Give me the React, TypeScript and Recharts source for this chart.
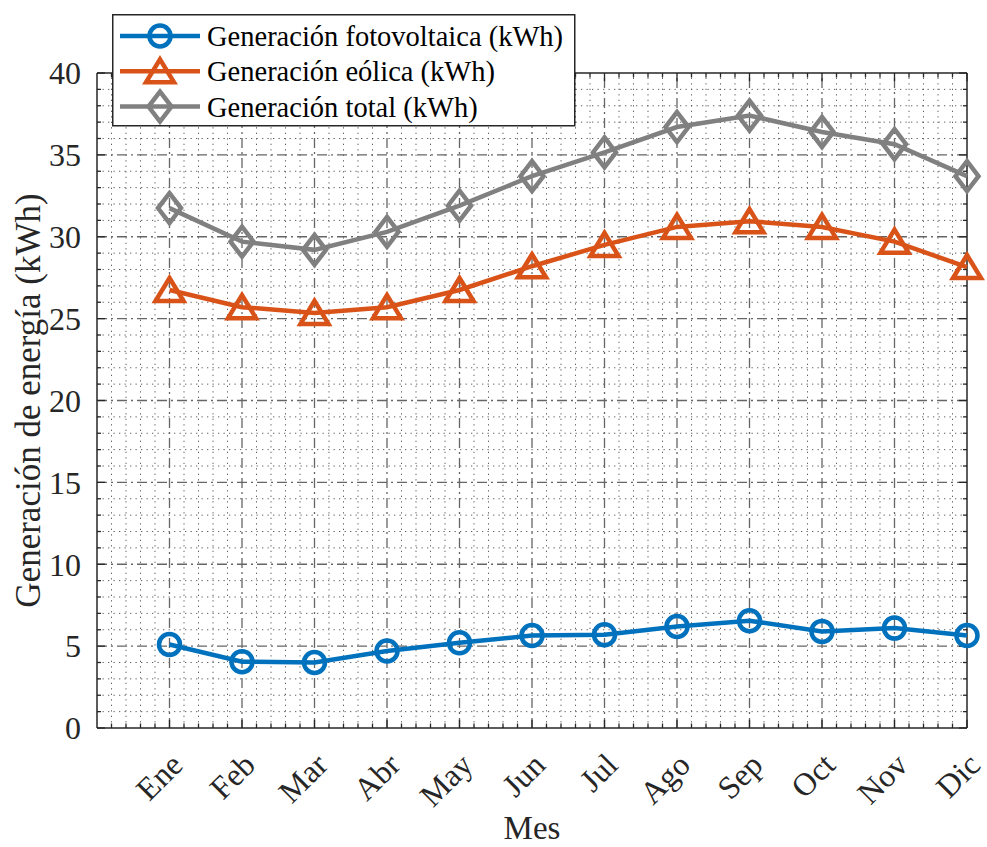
import React from 'react';
import { LineChart, Line, XAxis, YAxis, ReferenceLine, Legend, Label } from 'recharts';

const months = ['Ene', 'Feb', 'Mar', 'Abr', 'May', 'Jun', 'Jul', 'Ago', 'Sep', 'Oct', 'Nov', 'Dic'];
const fotovoltaica = [5.1, 4.05, 4.0, 4.7, 5.2, 5.65, 5.7, 6.2, 6.55, 5.9, 6.1, 5.65];
const eolica = [26.75, 25.7, 25.35, 25.7, 26.75, 28.2, 29.5, 30.6, 30.95, 30.6, 29.7, 28.15];
const total = [31.75, 29.7, 29.2, 30.3, 31.9, 33.7, 35.15, 36.7, 37.4, 36.4, 35.65, 33.7];
const yTicks = [0, 5, 10, 15, 20, 25, 30, 35, 40];
const seriesNames = ['Generación fotovoltaica (kWh)', 'Generación eólica (kWh)', 'Generación total (kWh)'];
const colors = ['#0072BD', '#D95319', '#808080'];

const data = months.map((m, i) => ({ x: i + 1, mes: m, fv: fotovoltaica[i], eo: eolica[i], tot: total[i] }));

const FONT = '"Liberation Serif", "Times New Roman", serif';
const XMAX = 12;
const YMAX = 40;
const SW = 4.5;

const yMinor: number[] = [];
for (let v = 0; v <= YMAX; v += 1) if (v % 5 !== 0) yMinor.push(v);
const xMinor: number[] = [];
for (let k = 1; k < XMAX * 5; k++) if (k % 5 !== 0) xMinor.push(k / 5);
const xMajor = months.map((_, i) => i + 1);

const circleDot = (p: any) => (
  <circle key={`c${p.index}`} cx={p.cx} cy={p.cy} r={10.5} fill="none" stroke={colors[0]} strokeWidth={SW} />
);
const triPath = (cx: number, cy: number) => `M${cx},${cy - 12} L${cx + 14},${cy + 11} L${cx - 14},${cy + 11} Z`;
const triDot = (p: any) => (
  <path key={`t${p.index}`} d={triPath(p.cx, p.cy)} fill="none" stroke={colors[1]} strokeWidth={SW} strokeLinejoin="miter" />
);
const diaPath = (cx: number, cy: number) => `M${cx},${cy - 15} L${cx + 11.5},${cy} L${cx},${cy + 15} L${cx - 11.5},${cy} Z`;
const diaDot = (p: any) => (
  <path key={`d${p.index}`} d={diaPath(p.cx, p.cy)} fill="none" stroke={colors[2]} strokeWidth={SW} />
);

const XTick = (props: any) => {
  const { x, y, payload } = props;
  const px = x + 15;
  const py = y + 31;
  return (
    <text x={px} y={py} transform={`rotate(-45 ${px} ${py})`} textAnchor="end" fontFamily={FONT} fontSize={32} fill="#262626">
      {months[payload.value - 1]}
    </text>
  );
};

const LegendBox = () => (
  <svg width={464} height={113} style={{ display: 'block' }}>
    <rect x={0.75} y={0.75} width={462} height={111} fill="#fff" stroke="#262626" strokeWidth={1.5} />
    {seriesNames.map((n, i) => {
      const cy = 22 + i * 35.3;
      return (
        <g key={n}>
          <line x1={8} x2={88} y1={cy} y2={cy} stroke={colors[i]} strokeWidth={SW} />
          {i === 0 && <circle cx={48} cy={cy} r={10.5} fill="none" stroke={colors[0]} strokeWidth={SW} />}
          {i === 1 && <path d={triPath(48, cy)} fill="none" stroke={colors[1]} strokeWidth={SW} />}
          {i === 2 && <path d={diaPath(48, cy)} fill="none" stroke={colors[2]} strokeWidth={SW} />}
          <text x={95} y={cy + 10} fontFamily={FONT} fontSize={28.5} fill="#000">{n}</text>
        </g>
      );
    })}
  </svg>
);

export default function App() {
  const minorStyle = { stroke: '#505050', strokeWidth: 1, strokeDasharray: '1.3 4.2', strokeOpacity: 0.9 };
  const majorStyle = { stroke: '#666666', strokeWidth: 1.3, strokeDasharray: '10 4 2 4' };
  const tickStyle = { stroke: '#262626', strokeWidth: 1.3 };
  const xMajLen = 0.11, xMinLen = 0.055, yMajLen = 0.5, yMinLen = 0.27;
  return (
    <div style={{ position: 'absolute', left: 0, top: 0, width: 987, height: 847, background: '#fff' }}>
      <LineChart width={987} height={847} data={data} margin={{ top: 73, right: 20, left: 0, bottom: 0 }}>
        <XAxis
          type="number"
          dataKey="x"
          domain={[0, XMAX]}
          ticks={xMajor}
          interval={0}
          axisLine={false}
          tickLine={false}
          height={119}
          tick={<XTick />}
        >
          <Label value="Mes" position="insideBottom" offset={8} style={{ fontFamily: FONT, fontSize: 33, fill: '#262626' }} />
        </XAxis>
        <YAxis
          type="number"
          domain={[0, YMAX]}
          ticks={yTicks}
          interval={0}
          axisLine={false}
          tickLine={false}
          width={97}
          tickMargin={10}
          tick={{ fontFamily: FONT, fontSize: 32, fill: '#262626' }}
        >
          <Label
            value="Generación de energía (kWh)"
            angle={-90}
            position="insideLeft"
            offset={28}
            style={{ fontFamily: FONT, fontSize: 35, fill: '#262626', textAnchor: 'middle' }}
          />
        </YAxis>
        {yMinor.map((v) => <ReferenceLine key={`ym${v}`} y={v} {...minorStyle} />)}
        {xMinor.map((v) => <ReferenceLine key={`xm${v}`} x={v} {...minorStyle} />)}
        {yTicks.filter((v) => v > 0 && v < YMAX).map((v) => <ReferenceLine key={`yM${v}`} y={v} {...majorStyle} />)}
        {xMajor.filter((v) => v < XMAX).map((v) => <ReferenceLine key={`xM${v}`} x={v} {...majorStyle} />)}
        {yMinor.map((v) => <ReferenceLine key={`tl${v}`} segment={[{ x: 0, y: v }, { x: xMinLen, y: v }]} {...tickStyle} />)}
        {yMinor.map((v) => <ReferenceLine key={`tr${v}`} segment={[{ x: XMAX - xMinLen, y: v }, { x: XMAX, y: v }]} {...tickStyle} />)}
        {yTicks.map((v) => <ReferenceLine key={`TL${v}`} segment={[{ x: 0, y: v }, { x: xMajLen, y: v }]} {...tickStyle} />)}
        {yTicks.map((v) => <ReferenceLine key={`TR${v}`} segment={[{ x: XMAX - xMajLen, y: v }, { x: XMAX, y: v }]} {...tickStyle} />)}
        {xMinor.map((v) => <ReferenceLine key={`tb${v}`} segment={[{ x: v, y: 0 }, { x: v, y: yMinLen }]} {...tickStyle} />)}
        {xMinor.map((v) => <ReferenceLine key={`tt${v}`} segment={[{ x: v, y: YMAX - yMinLen }, { x: v, y: YMAX }]} {...tickStyle} />)}
        {xMajor.map((v) => <ReferenceLine key={`TB${v}`} segment={[{ x: v, y: 0 }, { x: v, y: yMajLen }]} {...tickStyle} />)}
        {xMajor.map((v) => <ReferenceLine key={`TT${v}`} segment={[{ x: v, y: YMAX - yMajLen }, { x: v, y: YMAX }]} {...tickStyle} />)}
        <ReferenceLine x={0} stroke="#262626" strokeWidth={1.5} />
        <ReferenceLine x={XMAX} stroke="#262626" strokeWidth={1.5} />
        <ReferenceLine y={0} stroke="#262626" strokeWidth={1.5} />
        <ReferenceLine y={YMAX} stroke="#262626" strokeWidth={1.5} />
        <Line dataKey="fv" name={seriesNames[0]} stroke={colors[0]} strokeWidth={SW} dot={circleDot} activeDot={false} isAnimationActive={false} />
        <Line dataKey="eo" name={seriesNames[1]} stroke={colors[1]} strokeWidth={SW} dot={triDot} activeDot={false} isAnimationActive={false} />
        <Line dataKey="tot" name={seriesNames[2]} stroke={colors[2]} strokeWidth={SW} dot={diaDot} activeDot={false} isAnimationActive={false} />
        <Legend
          layout="horizontal"
          verticalAlign="middle"
          align="center"
          content={() => <LegendBox />}
          wrapperStyle={{ position: 'absolute', left: 112, top: 14, width: 464, height: 113 }}
        />
      </LineChart>
    </div>
  );
}
